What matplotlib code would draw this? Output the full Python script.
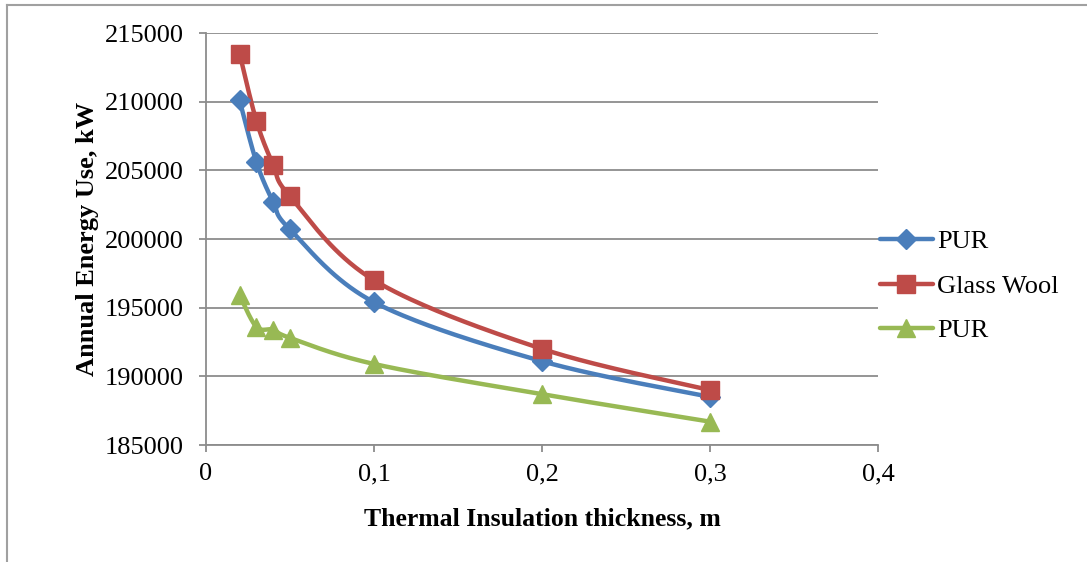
import numpy as np
import matplotlib
matplotlib.use("Agg")
import matplotlib.pyplot as plt
from matplotlib.lines import Line2D
from matplotlib.ticker import FuncFormatter

# Insulation thickness (m) and annual energy use (kW) per material
thickness = [0.02, 0.03, 0.04, 0.05, 0.1, 0.2, 0.3]
pur_a = [210100, 205600, 202700, 200700, 195400, 191100, 188500]
glass_wool = [213500, 208600, 205400, 203100, 197000, 192000, 189000]
pur_b = [195900, 193600, 193400, 192800, 190900, 188700, 186700]

series_labels = ["PUR", "Glass Wool", "PUR"]
x_ticks = [0, 0.1, 0.2, 0.3, 0.4]
y_ticks = [185000, 190000, 195000, 200000, 205000, 210000, 215000]

plt.rcParams["font.family"] = ["Liberation Serif", "DejaVu Serif"]
FS = 19


def smooth(xs, ys, n=40):
    """Catmull-Rom style cubic Bezier smoothing through every point."""
    xs = np.asarray(xs, float)
    ys = np.asarray(ys, float)
    px = np.concatenate([[xs[0]], xs, [xs[-1]]])
    py = np.concatenate([[ys[0]], ys, [ys[-1]]])
    out_x, out_y = [], []
    t = np.linspace(0, 1, n)
    for i in range(1, len(px) - 2):
        p0 = np.array([px[i - 1], py[i - 1]])
        p1 = np.array([px[i], py[i]])
        p2 = np.array([px[i + 1], py[i + 1]])
        p3 = np.array([px[i + 2], py[i + 2]])
        c1 = p1 + (p2 - p0) / 6.0
        c2 = p2 - (p3 - p1) / 6.0
        b = ((1 - t) ** 3)[:, None] * p1 + (3 * (1 - t) ** 2 * t)[:, None] * c1 \
            + (3 * (1 - t) * t ** 2)[:, None] * c2 + (t ** 3)[:, None] * p2
        out_x.extend(b[:, 0])
        out_y.extend(b[:, 1])
    return np.array(out_x), np.array(out_y)


W, H = 1087, 562
fig = plt.figure(figsize=(W / 100, H / 100), dpi=100)
ax = fig.add_axes([206 / W, 1 - 445 / H, (878 - 206) / W, (445 - 33) / H])

ax.set_xlim(0, 0.4)
ax.set_ylim(185000, 215000)

# scale factors so the spline is built in display-like units
sx = 672 / 0.4
sy = 412 / 30000.0

colors = ["#4A7EBB", "#BE4B48", "#98B954"]
markers = ["D", "s", "^"]
msizes = [10, 13, 13]
handles = []
for ys, col, mk, ms, lab in zip([pur_a, glass_wool, pur_b], colors, markers,
                                msizes, series_labels):
    cx, cy = smooth(np.array(thickness) * sx, np.array(ys) * sy)
    ax.plot(cx / sx, cy / sy, color=col, lw=3.2, solid_capstyle="round", zorder=3)
    ax.plot(thickness, ys, linestyle="none", marker=mk, markersize=ms,
            color=col, markeredgecolor=col, zorder=4)
    handles.append(Line2D([], [], color=col, lw=3.2, marker=mk, markersize=ms,
                          markeredgecolor=col, solid_capstyle="round"))

ax.set_xticks(x_ticks)
ax.set_yticks(y_ticks)
ax.xaxis.set_major_formatter(FuncFormatter(lambda v, p: "0" if v == 0 else f"{v:.1f}".replace(".", ",")))
ax.yaxis.set_major_formatter(FuncFormatter(lambda v, p: f"{int(v)}"))

grid_col = "#8c8c8c"
ax.grid(axis="y", color=grid_col, lw=1.3)
ax.set_axisbelow(True)
for s in ["top", "right"]:
    ax.spines[s].set_visible(False)
for s in ["left", "bottom"]:
    ax.spines[s].set_color(grid_col)
    ax.spines[s].set_linewidth(1.3)
ax.tick_params(axis="both", direction="out", length=5, width=1.3, color=grid_col,
               labelsize=FS)
ax.tick_params(axis="x", pad=8)
ax.tick_params(axis="y", pad=11)

ax.set_xlabel("Thermal Insulation thickness, m", fontsize=FS - 0.5, fontweight="bold", labelpad=16)
ax.set_ylabel("Annual Energy Use, kW", fontsize=FS, fontweight="bold", labelpad=4)

fig.legend(handles=handles, labels=series_labels, loc="center left",
           bbox_to_anchor=(880 / W, 1 - 286 / H), frameon=False, fontsize=FS,
           handlelength=2.0, handletextpad=0.15, labelspacing=0.8, borderaxespad=0,
           borderpad=0)

# outer chart frame (top and left edges visible)
fig.add_artist(Line2D([7 / W, 1], [1 - 5 / H, 1 - 5 / H], color="#a0a0a0", lw=1.5,
                      transform=fig.transFigure))
fig.add_artist(Line2D([7 / W, 7 / W], [0, 1 - 5 / H], color="#a0a0a0", lw=1.5,
                      transform=fig.transFigure))

fig.savefig("out.png", dpi=100)
